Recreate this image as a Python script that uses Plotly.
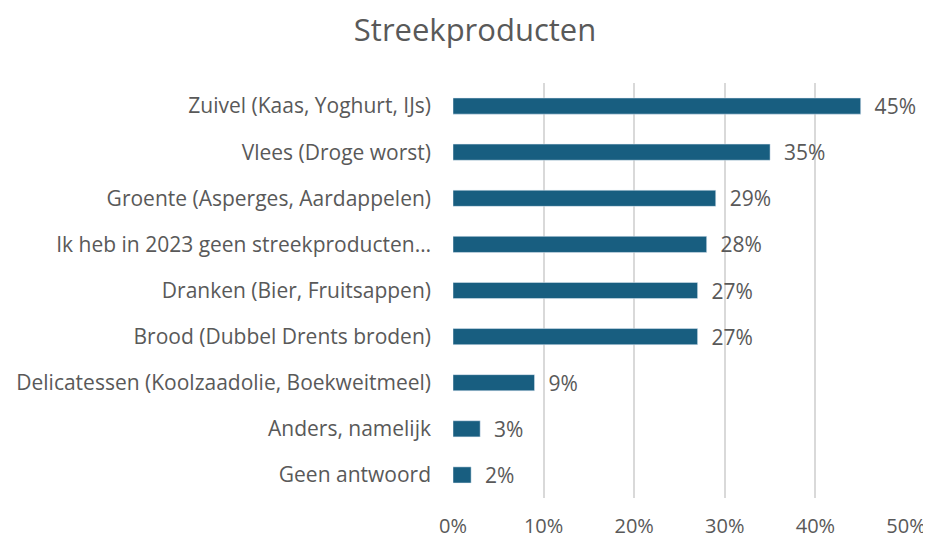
import plotly.graph_objects as go

# categories from top to bottom, as in the reference
categories = [
    "Zuivel (Kaas, Yoghurt, IJs)",
    "Vlees (Droge worst)",
    "Groente (Asperges, Aardappelen)",
    "Ik heb in 2023 geen streekproducten…",
    "Dranken (Bier, Fruitsappen)",
    "Brood (Dubbel Drents broden)",
    "Delicatessen (Koolzaadolie, Boekweitmeel)",
    "Anders, namelijk",
    "Geen antwoord",
]
percentages = [45, 35, 29, 28, 27, 27, 9, 3, 2]
tick_values = [0, 10, 20, 30, 40, 50]
tick_labels = ["0%", "10%", "20%", "30%", "40%", "50%"]

font_family = "Open Sans, Noto Sans, sans-serif"
text_grey = "#595959"

fig = go.Figure(
    go.Bar(
        x=percentages,
        y=categories,
        orientation="h",
        marker=dict(color="#185E80"),
        text=[f"  {v}%" for v in percentages],
        textposition="outside",
        constraintext="none",
        textfont=dict(size=21, color=text_grey, family=font_family),
        cliponaxis=False,
    )
)

# the page body adds an 8px offset, so the figure is 8px smaller than the window
fig.update_layout(
    width=923,
    height=531,
    paper_bgcolor="white",
    plot_bgcolor="white",
    margin=dict(l=445, r=25, t=75, b=41),
    bargap=0.65,
    showlegend=False,
    title=dict(
        text="Streekproducten",
        x=0.506,
        xanchor="center",
        y=0.958,
        yanchor="middle",
        font=dict(size=31, color=text_grey, family=font_family),
    ),
    font=dict(family=font_family, color=text_grey),
)

fig.update_xaxes(
    range=[0, 50],
    tickvals=tick_values,
    ticktext=tick_labels,
    showgrid=True,
    gridcolor="#D9D9D9",
    gridwidth=1.5,
    zeroline=False,
    showline=False,
    automargin=False,
    tickfont=dict(size=20, color=text_grey),
    ticklabelstandoff=14,
)

fig.update_yaxes(
    categoryorder="array",
    categoryarray=categories[::-1],
    showgrid=False,
    showline=False,
    automargin=False,
    tickfont=dict(size=21, color=text_grey),
    ticklabelstandoff=21,
)

fig.write_html("out.html")
